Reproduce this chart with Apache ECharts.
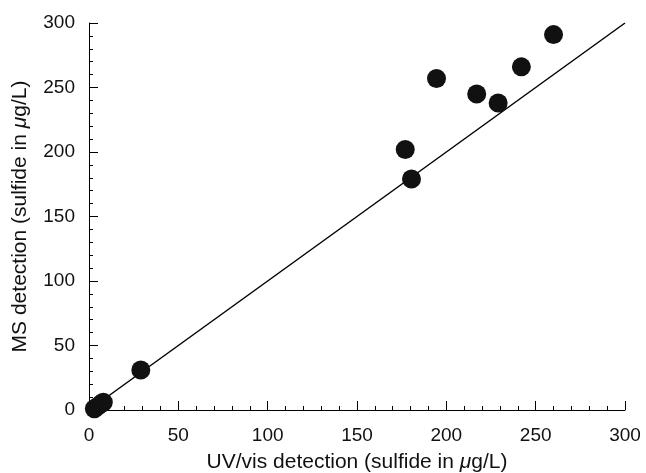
<!DOCTYPE html>
<html>
<head>
<meta charset="utf-8">
<script src="https://cdn.jsdelivr.net/npm/echarts@6/dist/echarts.min.js"></script>
<style>
  html, body { margin: 0; padding: 0; background: #fff; }
  #chart { width: 646px; height: 473px; }
</style>
</head>
<body>
<div id="chart"></div>
<script>
// UV/vis (x) vs MS (y), sulfide in ug/L
var uvVis = [3, 5, 7, 8, 29, 177, 180.5, 194.5, 217, 229, 242, 260];
var msDet = [1, 3, 5, 6, 31, 202, 179, 257, 245, 238, 266, 291];
var fitLine = [[0, 0], [300, 300]];
var axisMin = 0, axisMax = 300, axisStep = 50;

var points = uvVis.map(function (x, i) { return [x, msDet[i]]; });

var chart = echarts.init(document.getElementById('chart'));

var font = 'Liberation Sans, Arial, sans-serif';
var axisCommon = {
    type: 'value',
    min: axisMin,
    max: axisMax,
    interval: axisStep,
    splitLine: { show: false },
    axisLine: { show: true, lineStyle: { color: '#000', width: 1 } },
    axisTick: { show: true, inside: true, length: 9, lineStyle: { color: '#000' } },
    minorTick: { show: true, splitNumber: 5, length: 4, lineStyle: { color: '#000' } },
    axisLabel: { color: '#111', fontSize: 19, fontFamily: font },
    nameLocation: 'middle',
    nameTextStyle: { color: '#111', fontSize: 21, fontFamily: font,
        rich: { it: { fontStyle: 'italic', fontSize: 21, color: '#111', fontFamily: font } } }
};

chart.setOption({
    animation: false,
    grid: { left: 89, right: 21, top: 23, bottom: 63, containLabel: false, outerBoundsMode: 'none' },
    xAxis: Object.assign({}, axisCommon, {
        name: 'UV/vis detection (sulfide in {it|μ}g/L)',
        nameGap: 42,
        axisLabel: Object.assign({}, axisCommon.axisLabel, { margin: 16 })
    }),
    yAxis: Object.assign({}, axisCommon, {
        name: 'MS detection (sulfide in {it|μ}g/L)',
        nameGap: 58,
        axisLabel: Object.assign({}, axisCommon.axisLabel, { margin: 14 })
    }),
    series: [
        {
            type: 'line',
            data: fitLine,
            symbol: 'none',
            lineStyle: { color: '#000', width: 1.5 },
            z: 1
        },
        {
            type: 'scatter',
            data: points,
            symbolSize: 19,
            itemStyle: { color: '#111', opacity: 1 },
            z: 2
        }
    ]
});
</script>
</body>
</html>
